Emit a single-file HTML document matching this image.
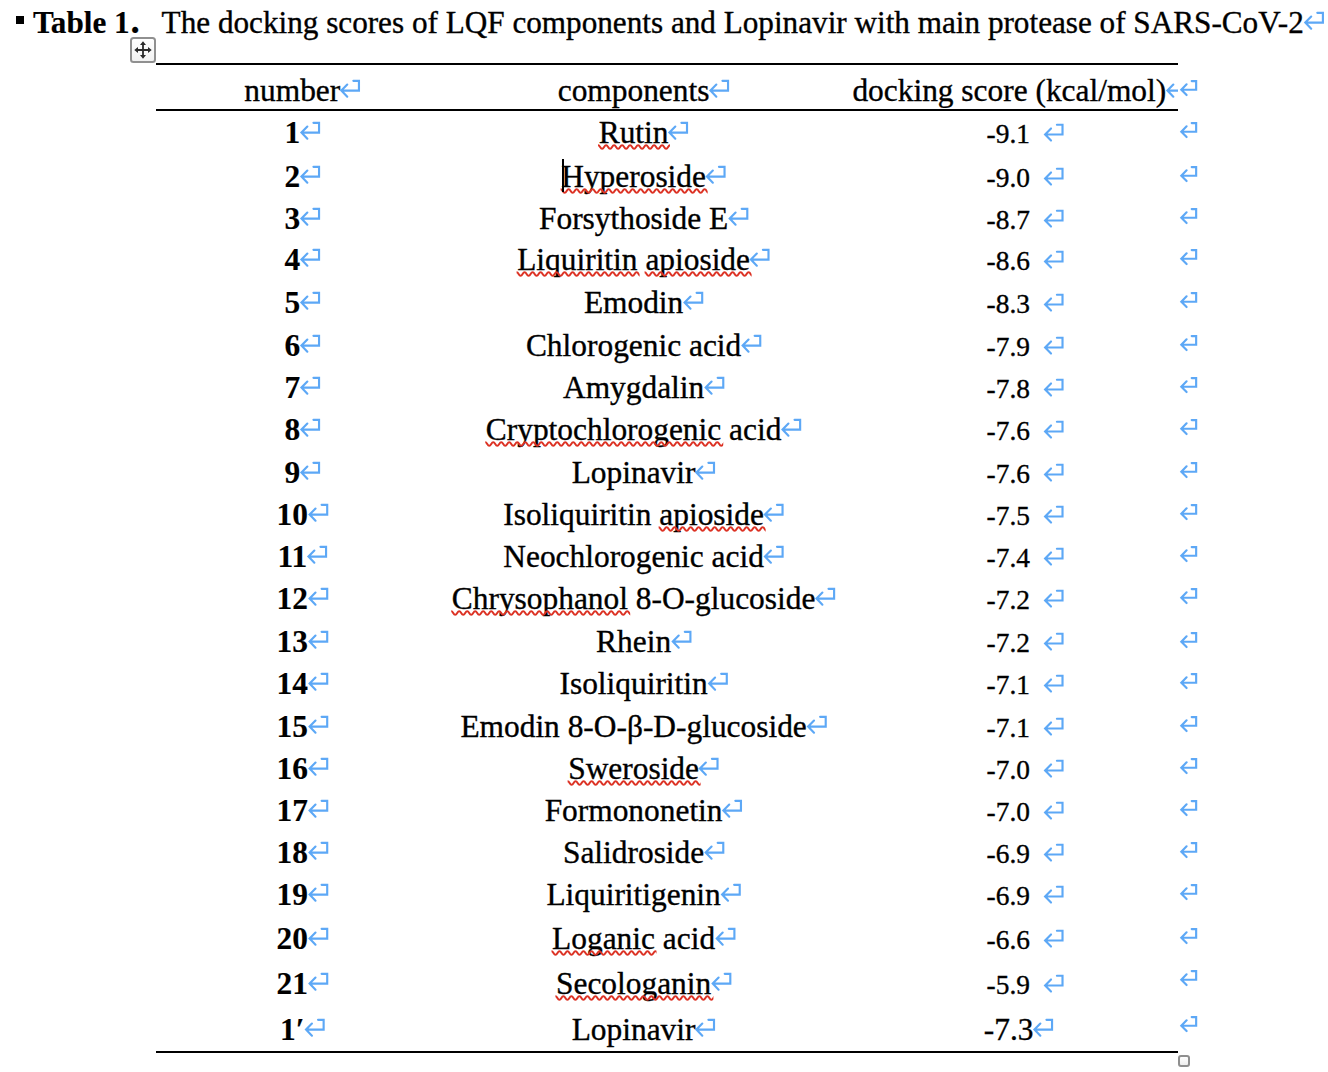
<!DOCTYPE html>
<html><head><meta charset="utf-8"><title>Table 1</title>
<style>
html,body{margin:0;padding:0;background:#fff;}
body{width:1328px;height:1072px;position:relative;overflow:hidden;font-family:"Liberation Serif","Times New Roman",serif;font-size:31.4px;line-height:1;color:#000;-webkit-text-stroke:0.35px #000;}
.r{position:absolute;white-space:pre;}
.c{position:absolute;white-space:pre;transform:translateX(-50%);}
.b{font-weight:bold;-webkit-text-stroke:0.15px #000;}
.s{font-size:27.4px;}
.m{position:absolute;left:100%;overflow:visible;}
.ma{top:26px;}
.mb{top:22px;margin-left:13.4px;}
.mc{top:26px;}
.m path{fill:none;stroke:#5da8f6;stroke-width:2.15;stroke-linecap:round;stroke-linejoin:miter;}
.w{position:relative;display:inline-block;}
.q{position:absolute;left:-0.5px;width:calc(100% + 2.5px);top:26.7px;overflow:hidden;}
.q path{fill:none;stroke:#dc3224;stroke-width:2;}
.ln{position:absolute;left:156px;width:1022px;height:2px;background:#000;}
</style></head><body>

<div style="position:absolute;left:16px;top:16px;width:8px;height:8px;background:#000"></div>
<div class="r b" style="left:32.9px;top:7px;font-size:31.2px">Table 1</div>
<div class="r b" style="left:130.6px;top:2px;font-size:37px">.</div>
<div class="r" style="left:161.6px;top:7px;font-size:31.2px">The docking scores of LQF components and Lopinavir with main protease of SARS-CoV-2<svg class="m ma" width="1" height="1"><path d="M7.2 -16.45L1.3 -10.4L7.2 -4.35M1.8 -10.4H18.9V-20.2H13.3"/></svg></div>
<div style="position:absolute;left:130px;top:37px;width:22px;height:22px;border:2px solid #909090;border-radius:3.5px;background:linear-gradient(#fff,#f1f1f1)"><svg width="22" height="22" viewBox="0 0 22 22" style="position:absolute;left:0;top:0"><path d="M11 4V18M4 11H18" stroke="#2a2a2a" stroke-width="1.8" fill="none"/><path d="M11 2.3L8 6H14ZM11 19.7L8 16H14ZM2.3 11L6 8V14ZM19.7 11L16 8V14Z" fill="#2a2a2a"/></svg></div>
<div class="ln" style="top:63px"></div>
<div class="ln" style="top:109px"></div>
<div class="ln" style="top:1051px"></div>
<div class="c" style="left:292.3px;top:75px">number<svg class="m ma" width="1" height="1"><path d="M7.2 -16.45L1.3 -10.4L7.2 -4.35M1.8 -10.4H18.9V-20.2H13.3"/></svg></div>
<div class="c" style="left:633.6px;top:75px">components<svg class="m ma" width="1" height="1"><path d="M7.2 -16.45L1.3 -10.4L7.2 -4.35M1.8 -10.4H18.9V-20.2H13.3"/></svg></div>
<div style="position:absolute;left:840px;top:66px;width:338px;height:42px;overflow:hidden"><div class="c" style="left:169.29999999999995px;top:9px">docking score (kcal/mol)<svg class="m ma" width="1" height="1"><path d="M7.2 -16.45L1.3 -10.4L7.2 -4.35M1.8 -10.4H18.9V-20.2H13.3"/></svg></div></div>
<div class="r" style="left:1179.85px;top:75px;width:0"><svg class="m mc" width="1" height="1"><path d="M6.6 -16.7L1.3 -11.3L6.6 -5.9M1.8 -11.3H16.15V-19.95H11.7"/></svg></div>
<div class="c b" style="left:292.3px;top:117px">1<svg class="m ma" width="1" height="1"><path d="M7.2 -16.45L1.3 -10.4L7.2 -4.35M1.8 -10.4H18.9V-20.2H13.3"/></svg></div>
<div class="c" style="left:633.6px;top:117px"><span class="w">Rutin<svg class="q" height="6" width="100%"><path d="M-2 3q2-3.5 4 0t4 0t4 0t4 0t4 0t4 0t4 0t4 0t4 0t4 0t4 0t4 0t4 0t4 0t4 0t4 0t4 0t4 0t4 0t4 0t4 0t4 0t4 0t4 0t4 0t4 0t4 0t4 0t4 0t4 0t4 0t4 0t4 0t4 0t4 0t4 0t4 0t4 0t4 0t4 0t4 0t4 0t4 0t4 0t4 0t4 0t4 0t4 0t4 0t4 0t4 0t4 0t4 0t4 0t4 0t4 0t4 0t4 0t4 0t4 0t4 0t4 0t4 0t4 0"/></svg></span><svg class="m ma" width="1" height="1"><path d="M7.2 -16.45L1.3 -10.4L7.2 -4.35M1.8 -10.4H18.9V-20.2H13.3"/></svg></div>
<div class="c s" style="left:1008.3px;top:121px">-9.1<svg class="m mb" width="1" height="1"><path d="M7.7 -14.55L1.8 -8.5L7.7 -2.45M2.3 -8.5H19.2V-18.3H13.6"/></svg></div>
<div class="r" style="left:1179.85px;top:117px;width:0"><svg class="m mc" width="1" height="1"><path d="M6.6 -16.7L1.3 -11.3L6.6 -5.9M1.8 -11.3H16.15V-19.95H11.7"/></svg></div>
<div class="c b" style="left:292.3px;top:161px">2<svg class="m ma" width="1" height="1"><path d="M7.2 -16.45L1.3 -10.4L7.2 -4.35M1.8 -10.4H18.9V-20.2H13.3"/></svg></div>
<div class="c" style="left:633.6px;top:161px"><span class="w">Hyperoside<svg class="q" height="6" width="100%"><path d="M-2 3q2-3.5 4 0t4 0t4 0t4 0t4 0t4 0t4 0t4 0t4 0t4 0t4 0t4 0t4 0t4 0t4 0t4 0t4 0t4 0t4 0t4 0t4 0t4 0t4 0t4 0t4 0t4 0t4 0t4 0t4 0t4 0t4 0t4 0t4 0t4 0t4 0t4 0t4 0t4 0t4 0t4 0t4 0t4 0t4 0t4 0t4 0t4 0t4 0t4 0t4 0t4 0t4 0t4 0t4 0t4 0t4 0t4 0t4 0t4 0t4 0t4 0t4 0t4 0t4 0t4 0"/></svg></span><svg class="m ma" width="1" height="1"><path d="M7.2 -16.45L1.3 -10.4L7.2 -4.35M1.8 -10.4H18.9V-20.2H13.3"/></svg></div>
<div class="c s" style="left:1008.3px;top:165px">-9.0<svg class="m mb" width="1" height="1"><path d="M7.7 -14.55L1.8 -8.5L7.7 -2.45M2.3 -8.5H19.2V-18.3H13.6"/></svg></div>
<div class="r" style="left:1179.85px;top:161px;width:0"><svg class="m mc" width="1" height="1"><path d="M6.6 -16.7L1.3 -11.3L6.6 -5.9M1.8 -11.3H16.15V-19.95H11.7"/></svg></div>
<div class="c b" style="left:292.3px;top:203px">3<svg class="m ma" width="1" height="1"><path d="M7.2 -16.45L1.3 -10.4L7.2 -4.35M1.8 -10.4H18.9V-20.2H13.3"/></svg></div>
<div class="c" style="left:633.6px;top:203px">Forsythoside E<svg class="m ma" width="1" height="1"><path d="M7.2 -16.45L1.3 -10.4L7.2 -4.35M1.8 -10.4H18.9V-20.2H13.3"/></svg></div>
<div class="c s" style="left:1008.3px;top:207px">-8.7<svg class="m mb" width="1" height="1"><path d="M7.7 -14.55L1.8 -8.5L7.7 -2.45M2.3 -8.5H19.2V-18.3H13.6"/></svg></div>
<div class="r" style="left:1179.85px;top:203px;width:0"><svg class="m mc" width="1" height="1"><path d="M6.6 -16.7L1.3 -11.3L6.6 -5.9M1.8 -11.3H16.15V-19.95H11.7"/></svg></div>
<div class="c b" style="left:292.3px;top:244px">4<svg class="m ma" width="1" height="1"><path d="M7.2 -16.45L1.3 -10.4L7.2 -4.35M1.8 -10.4H18.9V-20.2H13.3"/></svg></div>
<div class="c" style="left:633.6px;top:244px"><span class="w">Liquiritin<svg class="q" height="6" width="100%"><path d="M-2 3q2-3.5 4 0t4 0t4 0t4 0t4 0t4 0t4 0t4 0t4 0t4 0t4 0t4 0t4 0t4 0t4 0t4 0t4 0t4 0t4 0t4 0t4 0t4 0t4 0t4 0t4 0t4 0t4 0t4 0t4 0t4 0t4 0t4 0t4 0t4 0t4 0t4 0t4 0t4 0t4 0t4 0t4 0t4 0t4 0t4 0t4 0t4 0t4 0t4 0t4 0t4 0t4 0t4 0t4 0t4 0t4 0t4 0t4 0t4 0t4 0t4 0t4 0t4 0t4 0t4 0"/></svg></span> <span class="w">apioside<svg class="q" height="6" width="100%"><path d="M-2 3q2-3.5 4 0t4 0t4 0t4 0t4 0t4 0t4 0t4 0t4 0t4 0t4 0t4 0t4 0t4 0t4 0t4 0t4 0t4 0t4 0t4 0t4 0t4 0t4 0t4 0t4 0t4 0t4 0t4 0t4 0t4 0t4 0t4 0t4 0t4 0t4 0t4 0t4 0t4 0t4 0t4 0t4 0t4 0t4 0t4 0t4 0t4 0t4 0t4 0t4 0t4 0t4 0t4 0t4 0t4 0t4 0t4 0t4 0t4 0t4 0t4 0t4 0t4 0t4 0t4 0"/></svg></span><svg class="m ma" width="1" height="1"><path d="M7.2 -16.45L1.3 -10.4L7.2 -4.35M1.8 -10.4H18.9V-20.2H13.3"/></svg></div>
<div class="c s" style="left:1008.3px;top:248px">-8.6<svg class="m mb" width="1" height="1"><path d="M7.7 -14.55L1.8 -8.5L7.7 -2.45M2.3 -8.5H19.2V-18.3H13.6"/></svg></div>
<div class="r" style="left:1179.85px;top:244px;width:0"><svg class="m mc" width="1" height="1"><path d="M6.6 -16.7L1.3 -11.3L6.6 -5.9M1.8 -11.3H16.15V-19.95H11.7"/></svg></div>
<div class="c b" style="left:292.3px;top:287px">5<svg class="m ma" width="1" height="1"><path d="M7.2 -16.45L1.3 -10.4L7.2 -4.35M1.8 -10.4H18.9V-20.2H13.3"/></svg></div>
<div class="c" style="left:633.6px;top:287px">Emodin<svg class="m ma" width="1" height="1"><path d="M7.2 -16.45L1.3 -10.4L7.2 -4.35M1.8 -10.4H18.9V-20.2H13.3"/></svg></div>
<div class="c s" style="left:1008.3px;top:291px">-8.3<svg class="m mb" width="1" height="1"><path d="M7.7 -14.55L1.8 -8.5L7.7 -2.45M2.3 -8.5H19.2V-18.3H13.6"/></svg></div>
<div class="r" style="left:1179.85px;top:287px;width:0"><svg class="m mc" width="1" height="1"><path d="M6.6 -16.7L1.3 -11.3L6.6 -5.9M1.8 -11.3H16.15V-19.95H11.7"/></svg></div>
<div class="c b" style="left:292.3px;top:330px">6<svg class="m ma" width="1" height="1"><path d="M7.2 -16.45L1.3 -10.4L7.2 -4.35M1.8 -10.4H18.9V-20.2H13.3"/></svg></div>
<div class="c" style="left:633.6px;top:330px">Chlorogenic acid<svg class="m ma" width="1" height="1"><path d="M7.2 -16.45L1.3 -10.4L7.2 -4.35M1.8 -10.4H18.9V-20.2H13.3"/></svg></div>
<div class="c s" style="left:1008.3px;top:334px">-7.9<svg class="m mb" width="1" height="1"><path d="M7.7 -14.55L1.8 -8.5L7.7 -2.45M2.3 -8.5H19.2V-18.3H13.6"/></svg></div>
<div class="r" style="left:1179.85px;top:330px;width:0"><svg class="m mc" width="1" height="1"><path d="M6.6 -16.7L1.3 -11.3L6.6 -5.9M1.8 -11.3H16.15V-19.95H11.7"/></svg></div>
<div class="c b" style="left:292.3px;top:372px">7<svg class="m ma" width="1" height="1"><path d="M7.2 -16.45L1.3 -10.4L7.2 -4.35M1.8 -10.4H18.9V-20.2H13.3"/></svg></div>
<div class="c" style="left:633.6px;top:372px">Amygdalin<svg class="m ma" width="1" height="1"><path d="M7.2 -16.45L1.3 -10.4L7.2 -4.35M1.8 -10.4H18.9V-20.2H13.3"/></svg></div>
<div class="c s" style="left:1008.3px;top:376px">-7.8<svg class="m mb" width="1" height="1"><path d="M7.7 -14.55L1.8 -8.5L7.7 -2.45M2.3 -8.5H19.2V-18.3H13.6"/></svg></div>
<div class="r" style="left:1179.85px;top:372px;width:0"><svg class="m mc" width="1" height="1"><path d="M6.6 -16.7L1.3 -11.3L6.6 -5.9M1.8 -11.3H16.15V-19.95H11.7"/></svg></div>
<div class="c b" style="left:292.3px;top:414px">8<svg class="m ma" width="1" height="1"><path d="M7.2 -16.45L1.3 -10.4L7.2 -4.35M1.8 -10.4H18.9V-20.2H13.3"/></svg></div>
<div class="c" style="left:633.6px;top:414px"><span class="w">Cryptochlorogenic<svg class="q" height="6" width="100%"><path d="M-2 3q2-3.5 4 0t4 0t4 0t4 0t4 0t4 0t4 0t4 0t4 0t4 0t4 0t4 0t4 0t4 0t4 0t4 0t4 0t4 0t4 0t4 0t4 0t4 0t4 0t4 0t4 0t4 0t4 0t4 0t4 0t4 0t4 0t4 0t4 0t4 0t4 0t4 0t4 0t4 0t4 0t4 0t4 0t4 0t4 0t4 0t4 0t4 0t4 0t4 0t4 0t4 0t4 0t4 0t4 0t4 0t4 0t4 0t4 0t4 0t4 0t4 0t4 0t4 0t4 0t4 0"/></svg></span> acid<svg class="m ma" width="1" height="1"><path d="M7.2 -16.45L1.3 -10.4L7.2 -4.35M1.8 -10.4H18.9V-20.2H13.3"/></svg></div>
<div class="c s" style="left:1008.3px;top:418px">-7.6<svg class="m mb" width="1" height="1"><path d="M7.7 -14.55L1.8 -8.5L7.7 -2.45M2.3 -8.5H19.2V-18.3H13.6"/></svg></div>
<div class="r" style="left:1179.85px;top:414px;width:0"><svg class="m mc" width="1" height="1"><path d="M6.6 -16.7L1.3 -11.3L6.6 -5.9M1.8 -11.3H16.15V-19.95H11.7"/></svg></div>
<div class="c b" style="left:292.3px;top:457px">9<svg class="m ma" width="1" height="1"><path d="M7.2 -16.45L1.3 -10.4L7.2 -4.35M1.8 -10.4H18.9V-20.2H13.3"/></svg></div>
<div class="c" style="left:633.6px;top:457px">Lopinavir<svg class="m ma" width="1" height="1"><path d="M7.2 -16.45L1.3 -10.4L7.2 -4.35M1.8 -10.4H18.9V-20.2H13.3"/></svg></div>
<div class="c s" style="left:1008.3px;top:461px">-7.6<svg class="m mb" width="1" height="1"><path d="M7.7 -14.55L1.8 -8.5L7.7 -2.45M2.3 -8.5H19.2V-18.3H13.6"/></svg></div>
<div class="r" style="left:1179.85px;top:457px;width:0"><svg class="m mc" width="1" height="1"><path d="M6.6 -16.7L1.3 -11.3L6.6 -5.9M1.8 -11.3H16.15V-19.95H11.7"/></svg></div>
<div class="c b" style="left:292.3px;top:499px">10<svg class="m ma" width="1" height="1"><path d="M7.2 -16.45L1.3 -10.4L7.2 -4.35M1.8 -10.4H18.9V-20.2H13.3"/></svg></div>
<div class="c" style="left:633.6px;top:499px">Isoliquiritin <span class="w">apioside<svg class="q" height="6" width="100%"><path d="M-2 3q2-3.5 4 0t4 0t4 0t4 0t4 0t4 0t4 0t4 0t4 0t4 0t4 0t4 0t4 0t4 0t4 0t4 0t4 0t4 0t4 0t4 0t4 0t4 0t4 0t4 0t4 0t4 0t4 0t4 0t4 0t4 0t4 0t4 0t4 0t4 0t4 0t4 0t4 0t4 0t4 0t4 0t4 0t4 0t4 0t4 0t4 0t4 0t4 0t4 0t4 0t4 0t4 0t4 0t4 0t4 0t4 0t4 0t4 0t4 0t4 0t4 0t4 0t4 0t4 0t4 0"/></svg></span><svg class="m ma" width="1" height="1"><path d="M7.2 -16.45L1.3 -10.4L7.2 -4.35M1.8 -10.4H18.9V-20.2H13.3"/></svg></div>
<div class="c s" style="left:1008.3px;top:503px">-7.5<svg class="m mb" width="1" height="1"><path d="M7.7 -14.55L1.8 -8.5L7.7 -2.45M2.3 -8.5H19.2V-18.3H13.6"/></svg></div>
<div class="r" style="left:1179.85px;top:499px;width:0"><svg class="m mc" width="1" height="1"><path d="M6.6 -16.7L1.3 -11.3L6.6 -5.9M1.8 -11.3H16.15V-19.95H11.7"/></svg></div>
<div class="c b" style="left:292.3px;top:541px">11<svg class="m ma" width="1" height="1"><path d="M7.2 -16.45L1.3 -10.4L7.2 -4.35M1.8 -10.4H18.9V-20.2H13.3"/></svg></div>
<div class="c" style="left:633.6px;top:541px">Neochlorogenic acid<svg class="m ma" width="1" height="1"><path d="M7.2 -16.45L1.3 -10.4L7.2 -4.35M1.8 -10.4H18.9V-20.2H13.3"/></svg></div>
<div class="c s" style="left:1008.3px;top:545px">-7.4<svg class="m mb" width="1" height="1"><path d="M7.7 -14.55L1.8 -8.5L7.7 -2.45M2.3 -8.5H19.2V-18.3H13.6"/></svg></div>
<div class="r" style="left:1179.85px;top:541px;width:0"><svg class="m mc" width="1" height="1"><path d="M6.6 -16.7L1.3 -11.3L6.6 -5.9M1.8 -11.3H16.15V-19.95H11.7"/></svg></div>
<div class="c b" style="left:292.3px;top:583px">12<svg class="m ma" width="1" height="1"><path d="M7.2 -16.45L1.3 -10.4L7.2 -4.35M1.8 -10.4H18.9V-20.2H13.3"/></svg></div>
<div class="c" style="left:633.6px;top:583px"><span class="w">Chrysophanol<svg class="q" height="6" width="100%"><path d="M-2 3q2-3.5 4 0t4 0t4 0t4 0t4 0t4 0t4 0t4 0t4 0t4 0t4 0t4 0t4 0t4 0t4 0t4 0t4 0t4 0t4 0t4 0t4 0t4 0t4 0t4 0t4 0t4 0t4 0t4 0t4 0t4 0t4 0t4 0t4 0t4 0t4 0t4 0t4 0t4 0t4 0t4 0t4 0t4 0t4 0t4 0t4 0t4 0t4 0t4 0t4 0t4 0t4 0t4 0t4 0t4 0t4 0t4 0t4 0t4 0t4 0t4 0t4 0t4 0t4 0t4 0"/></svg></span> 8-O-glucoside<svg class="m ma" width="1" height="1"><path d="M7.2 -16.45L1.3 -10.4L7.2 -4.35M1.8 -10.4H18.9V-20.2H13.3"/></svg></div>
<div class="c s" style="left:1008.3px;top:587px">-7.2<svg class="m mb" width="1" height="1"><path d="M7.7 -14.55L1.8 -8.5L7.7 -2.45M2.3 -8.5H19.2V-18.3H13.6"/></svg></div>
<div class="r" style="left:1179.85px;top:583px;width:0"><svg class="m mc" width="1" height="1"><path d="M6.6 -16.7L1.3 -11.3L6.6 -5.9M1.8 -11.3H16.15V-19.95H11.7"/></svg></div>
<div class="c b" style="left:292.3px;top:626px">13<svg class="m ma" width="1" height="1"><path d="M7.2 -16.45L1.3 -10.4L7.2 -4.35M1.8 -10.4H18.9V-20.2H13.3"/></svg></div>
<div class="c" style="left:633.6px;top:626px">Rhein<svg class="m ma" width="1" height="1"><path d="M7.2 -16.45L1.3 -10.4L7.2 -4.35M1.8 -10.4H18.9V-20.2H13.3"/></svg></div>
<div class="c s" style="left:1008.3px;top:630px">-7.2<svg class="m mb" width="1" height="1"><path d="M7.7 -14.55L1.8 -8.5L7.7 -2.45M2.3 -8.5H19.2V-18.3H13.6"/></svg></div>
<div class="r" style="left:1179.85px;top:627px;width:0"><svg class="m mc" width="1" height="1"><path d="M6.6 -16.7L1.3 -11.3L6.6 -5.9M1.8 -11.3H16.15V-19.95H11.7"/></svg></div>
<div class="c b" style="left:292.3px;top:668px">14<svg class="m ma" width="1" height="1"><path d="M7.2 -16.45L1.3 -10.4L7.2 -4.35M1.8 -10.4H18.9V-20.2H13.3"/></svg></div>
<div class="c" style="left:633.6px;top:668px">Isoliquiritin<svg class="m ma" width="1" height="1"><path d="M7.2 -16.45L1.3 -10.4L7.2 -4.35M1.8 -10.4H18.9V-20.2H13.3"/></svg></div>
<div class="c s" style="left:1008.3px;top:672px">-7.1<svg class="m mb" width="1" height="1"><path d="M7.7 -14.55L1.8 -8.5L7.7 -2.45M2.3 -8.5H19.2V-18.3H13.6"/></svg></div>
<div class="r" style="left:1179.85px;top:668px;width:0"><svg class="m mc" width="1" height="1"><path d="M6.6 -16.7L1.3 -11.3L6.6 -5.9M1.8 -11.3H16.15V-19.95H11.7"/></svg></div>
<div class="c b" style="left:292.3px;top:711px">15<svg class="m ma" width="1" height="1"><path d="M7.2 -16.45L1.3 -10.4L7.2 -4.35M1.8 -10.4H18.9V-20.2H13.3"/></svg></div>
<div class="c" style="left:633.6px;top:711px">Emodin 8-O-β-D-glucoside<svg class="m ma" width="1" height="1"><path d="M7.2 -16.45L1.3 -10.4L7.2 -4.35M1.8 -10.4H18.9V-20.2H13.3"/></svg></div>
<div class="c s" style="left:1008.3px;top:715px">-7.1<svg class="m mb" width="1" height="1"><path d="M7.7 -14.55L1.8 -8.5L7.7 -2.45M2.3 -8.5H19.2V-18.3H13.6"/></svg></div>
<div class="r" style="left:1179.85px;top:711px;width:0"><svg class="m mc" width="1" height="1"><path d="M6.6 -16.7L1.3 -11.3L6.6 -5.9M1.8 -11.3H16.15V-19.95H11.7"/></svg></div>
<div class="c b" style="left:292.3px;top:753px">16<svg class="m ma" width="1" height="1"><path d="M7.2 -16.45L1.3 -10.4L7.2 -4.35M1.8 -10.4H18.9V-20.2H13.3"/></svg></div>
<div class="c" style="left:633.6px;top:753px"><span class="w">Sweroside<svg class="q" height="6" width="100%"><path d="M-2 3q2-3.5 4 0t4 0t4 0t4 0t4 0t4 0t4 0t4 0t4 0t4 0t4 0t4 0t4 0t4 0t4 0t4 0t4 0t4 0t4 0t4 0t4 0t4 0t4 0t4 0t4 0t4 0t4 0t4 0t4 0t4 0t4 0t4 0t4 0t4 0t4 0t4 0t4 0t4 0t4 0t4 0t4 0t4 0t4 0t4 0t4 0t4 0t4 0t4 0t4 0t4 0t4 0t4 0t4 0t4 0t4 0t4 0t4 0t4 0t4 0t4 0t4 0t4 0t4 0t4 0"/></svg></span><svg class="m ma" width="1" height="1"><path d="M7.2 -16.45L1.3 -10.4L7.2 -4.35M1.8 -10.4H18.9V-20.2H13.3"/></svg></div>
<div class="c s" style="left:1008.3px;top:757px">-7.0<svg class="m mb" width="1" height="1"><path d="M7.7 -14.55L1.8 -8.5L7.7 -2.45M2.3 -8.5H19.2V-18.3H13.6"/></svg></div>
<div class="r" style="left:1179.85px;top:753px;width:0"><svg class="m mc" width="1" height="1"><path d="M6.6 -16.7L1.3 -11.3L6.6 -5.9M1.8 -11.3H16.15V-19.95H11.7"/></svg></div>
<div class="c b" style="left:292.3px;top:795px">17<svg class="m ma" width="1" height="1"><path d="M7.2 -16.45L1.3 -10.4L7.2 -4.35M1.8 -10.4H18.9V-20.2H13.3"/></svg></div>
<div class="c" style="left:633.6px;top:795px">Formononetin<svg class="m ma" width="1" height="1"><path d="M7.2 -16.45L1.3 -10.4L7.2 -4.35M1.8 -10.4H18.9V-20.2H13.3"/></svg></div>
<div class="c s" style="left:1008.3px;top:799px">-7.0<svg class="m mb" width="1" height="1"><path d="M7.7 -14.55L1.8 -8.5L7.7 -2.45M2.3 -8.5H19.2V-18.3H13.6"/></svg></div>
<div class="r" style="left:1179.85px;top:795px;width:0"><svg class="m mc" width="1" height="1"><path d="M6.6 -16.7L1.3 -11.3L6.6 -5.9M1.8 -11.3H16.15V-19.95H11.7"/></svg></div>
<div class="c b" style="left:292.3px;top:837px">18<svg class="m ma" width="1" height="1"><path d="M7.2 -16.45L1.3 -10.4L7.2 -4.35M1.8 -10.4H18.9V-20.2H13.3"/></svg></div>
<div class="c" style="left:633.6px;top:837px">Salidroside<svg class="m ma" width="1" height="1"><path d="M7.2 -16.45L1.3 -10.4L7.2 -4.35M1.8 -10.4H18.9V-20.2H13.3"/></svg></div>
<div class="c s" style="left:1008.3px;top:841px">-6.9<svg class="m mb" width="1" height="1"><path d="M7.7 -14.55L1.8 -8.5L7.7 -2.45M2.3 -8.5H19.2V-18.3H13.6"/></svg></div>
<div class="r" style="left:1179.85px;top:837px;width:0"><svg class="m mc" width="1" height="1"><path d="M6.6 -16.7L1.3 -11.3L6.6 -5.9M1.8 -11.3H16.15V-19.95H11.7"/></svg></div>
<div class="c b" style="left:292.3px;top:879px">19<svg class="m ma" width="1" height="1"><path d="M7.2 -16.45L1.3 -10.4L7.2 -4.35M1.8 -10.4H18.9V-20.2H13.3"/></svg></div>
<div class="c" style="left:633.6px;top:879px">Liquiritigenin<svg class="m ma" width="1" height="1"><path d="M7.2 -16.45L1.3 -10.4L7.2 -4.35M1.8 -10.4H18.9V-20.2H13.3"/></svg></div>
<div class="c s" style="left:1008.3px;top:883px">-6.9<svg class="m mb" width="1" height="1"><path d="M7.7 -14.55L1.8 -8.5L7.7 -2.45M2.3 -8.5H19.2V-18.3H13.6"/></svg></div>
<div class="r" style="left:1179.85px;top:879px;width:0"><svg class="m mc" width="1" height="1"><path d="M6.6 -16.7L1.3 -11.3L6.6 -5.9M1.8 -11.3H16.15V-19.95H11.7"/></svg></div>
<div class="c b" style="left:292.3px;top:923px">20<svg class="m ma" width="1" height="1"><path d="M7.2 -16.45L1.3 -10.4L7.2 -4.35M1.8 -10.4H18.9V-20.2H13.3"/></svg></div>
<div class="c" style="left:633.6px;top:923px"><span class="w">Loganic<svg class="q" height="6" width="100%"><path d="M-2 3q2-3.5 4 0t4 0t4 0t4 0t4 0t4 0t4 0t4 0t4 0t4 0t4 0t4 0t4 0t4 0t4 0t4 0t4 0t4 0t4 0t4 0t4 0t4 0t4 0t4 0t4 0t4 0t4 0t4 0t4 0t4 0t4 0t4 0t4 0t4 0t4 0t4 0t4 0t4 0t4 0t4 0t4 0t4 0t4 0t4 0t4 0t4 0t4 0t4 0t4 0t4 0t4 0t4 0t4 0t4 0t4 0t4 0t4 0t4 0t4 0t4 0t4 0t4 0t4 0t4 0"/></svg></span> acid<svg class="m ma" width="1" height="1"><path d="M7.2 -16.45L1.3 -10.4L7.2 -4.35M1.8 -10.4H18.9V-20.2H13.3"/></svg></div>
<div class="c s" style="left:1008.3px;top:927px">-6.6<svg class="m mb" width="1" height="1"><path d="M7.7 -14.55L1.8 -8.5L7.7 -2.45M2.3 -8.5H19.2V-18.3H13.6"/></svg></div>
<div class="r" style="left:1179.85px;top:923px;width:0"><svg class="m mc" width="1" height="1"><path d="M6.6 -16.7L1.3 -11.3L6.6 -5.9M1.8 -11.3H16.15V-19.95H11.7"/></svg></div>
<div class="c b" style="left:292.3px;top:968px">21<svg class="m ma" width="1" height="1"><path d="M7.2 -16.45L1.3 -10.4L7.2 -4.35M1.8 -10.4H18.9V-20.2H13.3"/></svg></div>
<div class="c" style="left:633.6px;top:968px"><span class="w">Secologanin<svg class="q" height="6" width="100%"><path d="M-2 3q2-3.5 4 0t4 0t4 0t4 0t4 0t4 0t4 0t4 0t4 0t4 0t4 0t4 0t4 0t4 0t4 0t4 0t4 0t4 0t4 0t4 0t4 0t4 0t4 0t4 0t4 0t4 0t4 0t4 0t4 0t4 0t4 0t4 0t4 0t4 0t4 0t4 0t4 0t4 0t4 0t4 0t4 0t4 0t4 0t4 0t4 0t4 0t4 0t4 0t4 0t4 0t4 0t4 0t4 0t4 0t4 0t4 0t4 0t4 0t4 0t4 0t4 0t4 0t4 0t4 0"/></svg></span><svg class="m ma" width="1" height="1"><path d="M7.2 -16.45L1.3 -10.4L7.2 -4.35M1.8 -10.4H18.9V-20.2H13.3"/></svg></div>
<div class="c s" style="left:1008.3px;top:972px">-5.9<svg class="m mb" width="1" height="1"><path d="M7.7 -14.55L1.8 -8.5L7.7 -2.45M2.3 -8.5H19.2V-18.3H13.6"/></svg></div>
<div class="r" style="left:1179.85px;top:965px;width:0"><svg class="m mc" width="1" height="1"><path d="M6.6 -16.7L1.3 -11.3L6.6 -5.9M1.8 -11.3H16.15V-19.95H11.7"/></svg></div>
<div class="c b" style="left:292.3px;top:1014px">1′<svg class="m ma" width="1" height="1"><path d="M7.2 -16.45L1.3 -10.4L7.2 -4.35M1.8 -10.4H18.9V-20.2H13.3"/></svg></div>
<div class="c" style="left:633.6px;top:1014px">Lopinavir<svg class="m ma" width="1" height="1"><path d="M7.2 -16.45L1.3 -10.4L7.2 -4.35M1.8 -10.4H18.9V-20.2H13.3"/></svg></div>
<div class="c" style="left:1008.6999999999999px;top:1014px">-7.3<svg class="m ma" width="1" height="1"><path d="M7.2 -16.45L1.3 -10.4L7.2 -4.35M1.8 -10.4H18.9V-20.2H13.3"/></svg></div>
<div class="r" style="left:1179.85px;top:1011px;width:0"><svg class="m mc" width="1" height="1"><path d="M6.6 -16.7L1.3 -11.3L6.6 -5.9M1.8 -11.3H16.15V-19.95H11.7"/></svg></div>
<div style="position:absolute;left:562px;top:159px;width:2px;height:33px;background:#000"></div>
<div style="position:absolute;left:1178px;top:1055px;width:8px;height:8px;border:2px solid #8f8f8f;border-radius:3px;background:linear-gradient(#fff,#eee)"></div>
</body></html>
